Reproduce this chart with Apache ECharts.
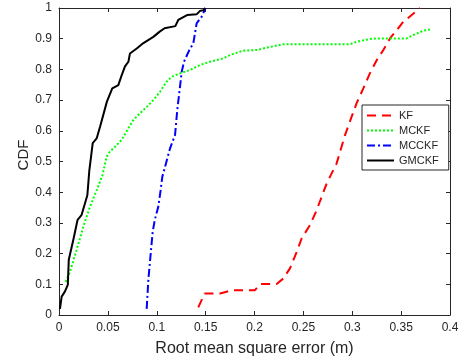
<!DOCTYPE html>
<html>
<head>
<meta charset="utf-8">
<script src="https://cdn.jsdelivr.net/npm/echarts@6/dist/echarts.min.js"></script>
<style>html,body{margin:0;padding:0;background:#fff;}#c{width:464px;height:362px;}</style>
</head>
<body>
<div id="c"></div>
<script>
const xTickLabels = ['0','0.05','0.1','0.15','0.2','0.25','0.3','0.35','0.4'];
const yTickLabels = ['0','0.1','0.2','0.3','0.4','0.5','0.6','0.7','0.8','0.9','1'];
const seriesNames = ['KF','MCKF','MCCKF','GMCKF'];

const kfX = [0.1425,0.149,0.1647,0.1715,0.178,0.2005,0.2056,0.2227,0.2295,0.2363,0.2432,0.2483,0.2568,0.2636,0.2687,0.2739,0.2806,0.284,0.2926,0.2994,0.3045,0.3113,0.318,0.325,0.3318,0.3386,0.3455,0.3522,0.3608,0.3693];
const kfY = [0.025,0.07,0.07,0.076,0.081,0.081,0.101,0.101,0.119,0.152,0.206,0.25,0.293,0.342,0.385,0.429,0.472,0.494,0.586,0.646,0.69,0.738,0.787,0.83,0.863,0.901,0.928,0.955,0.977,1.0];

const mckfX = [0.0068,0.0113,0.018,0.0249,0.0317,0.0386,0.0445,0.0488,0.052,0.0573,0.064,0.0709,0.076,0.0829,0.0897,0.0965,0.1033,0.110,0.1153,0.1238,0.134,0.144,0.1545,0.168,0.175,0.1885,0.202,0.2125,0.2295,0.2977,0.3045,0.318,0.325,0.3556,0.3625,0.3727,0.3795];
const mckfY = [0.108,0.141,0.212,0.288,0.353,0.407,0.456,0.516,0.532,0.548,0.57,0.608,0.635,0.657,0.678,0.7,0.727,0.76,0.776,0.787,0.798,0.814,0.825,0.836,0.847,0.861,0.863,0.871,0.882,0.882,0.89,0.899,0.901,0.901,0.912,0.926,0.93];

const mcckfX = [0.0897,0.0914,0.0938,0.0958,0.098,0.1016,0.104,0.1057,0.1136,0.1187,0.121,0.1238,0.1255,0.1279,0.1333,0.1374,0.1408,0.146,0.150];
const mcckfY = [0.02,0.114,0.2,0.27,0.31,0.353,0.407,0.45,0.543,0.586,0.668,0.744,0.792,0.825,0.863,0.885,0.95,0.972,1.0];

const gmckfX = [0.001,0.0027,0.006,0.009,0.010,0.015,0.019,0.023,0.029,0.031,0.0345,0.0385,0.042,0.049,0.0545,0.0607,0.064,0.0675,0.071,0.0726,0.0795,0.086,0.0965,0.103,0.108,0.119,0.122,0.131,0.141,0.144,0.148,0.1494];
const gmckfY = [0.02,0.06,0.076,0.098,0.18,0.25,0.31,0.325,0.39,0.47,0.56,0.575,0.613,0.695,0.738,0.749,0.78,0.81,0.825,0.852,0.868,0.885,0.906,0.923,0.934,0.941,0.961,0.977,0.98,0.99,0.993,1.0];

function pairs(xs, ys){ return xs.map((x,i)=>[x, ys[i]]); }

const axisColor = '#262626';
const font = 'Liberation Sans, Arial, sans-serif';

const chart = echarts.init(document.getElementById('c'), null, {renderer:'canvas'});
chart.setOption({
  animation: false,
  backgroundColor: '#fff',
  grid: {left: 59, right: 14, top: 8, bottom: 47, containLabel: false},
  xAxis: [{
    type: 'value', min: 0, max: 0.4, interval: 0.05, position: 'bottom',
    axisLine: {onZero: false, lineStyle: {color: axisColor, width: 1}},
    axisTick: {inside: true, length: 4, lineStyle: {color: axisColor}},
    splitLine: {show: false},
    axisLabel: {color: axisColor, fontSize: 12, fontFamily: font, margin: 7,
      formatter: (v, i) => xTickLabels[i]},
    name: 'Root mean square error (m)', nameLocation: 'middle', nameGap: 26,
    nameTextStyle: {color: axisColor, fontSize: 16, fontFamily: font}
  },{
    type: 'value', min: 0, max: 0.4, interval: 0.05, position: 'top',
    axisLine: {onZero: false, lineStyle: {color: axisColor, width: 1}},
    axisTick: {inside: true, length: 4, lineStyle: {color: axisColor}},
    axisLabel: {show: false}, splitLine: {show: false}
  }],
  yAxis: [{
    type: 'value', min: 0, max: 1, interval: 0.1, position: 'left',
    axisLine: {show: true, onZero: false, lineStyle: {color: axisColor, width: 1}},
    axisTick: {show: true, inside: true, length: 4, lineStyle: {color: axisColor}},
    splitLine: {show: false},
    axisLabel: {color: axisColor, fontSize: 12, fontFamily: font, margin: 7,
      formatter: (v, i) => yTickLabels[i]},
    name: 'CDF', nameLocation: 'middle', nameGap: 28, nameRotate: 90, nameMoveOverlap: false,
    nameTextStyle: {color: axisColor, fontSize: 15, fontFamily: font, padding: [0, 0, 0, 13]}
  },{
    type: 'value', min: 0, max: 1, interval: 0.1, position: 'right',
    axisLine: {show: true, onZero: false, lineStyle: {color: axisColor, width: 1}},
    axisTick: {show: true, inside: true, length: 4, lineStyle: {color: axisColor}},
    axisLabel: {show: false}, splitLine: {show: false}
  }],
  legend: {
    orient: 'vertical', left: 362, top: 105,
    padding: [5, 10, 4, 4], itemGap: 4, itemWidth: 27, itemHeight: 12,
    backgroundColor: '#fff', borderColor: axisColor, borderWidth: 1, borderRadius: 0,
    textStyle: {color: axisColor, fontSize: 11, fontFamily: font},
    itemStyle: {opacity: 0},
    lineStyle: {width: 2},
    data: seriesNames
  },
  series: [
    {name: seriesNames[0], type: 'line', data: pairs(kfX, kfY), showSymbol: false, symbol: 'none',
      lineStyle: {color: '#ff0000', width: 2, type: [9, 6]}, itemStyle: {color: '#ff0000'}},
    {name: seriesNames[1], type: 'line', data: pairs(mckfX, mckfY), showSymbol: false, symbol: 'none',
      lineStyle: {color: '#00ff00', width: 2, type: [2, 2]}, itemStyle: {color: '#00ff00'}},
    {name: seriesNames[2], type: 'line', data: pairs(mcckfX, mcckfY), showSymbol: false, symbol: 'none',
      lineStyle: {color: '#0000ff', width: 2, type: [8, 3, 2, 3]}, itemStyle: {color: '#0000ff'}},
    {name: seriesNames[3], type: 'line', data: pairs(gmckfX, gmckfY), showSymbol: false, symbol: 'none',
      lineStyle: {color: '#000000', width: 2, type: 'solid'}, itemStyle: {color: '#000000'}}
  ]
});
</script>
</body>
</html>
